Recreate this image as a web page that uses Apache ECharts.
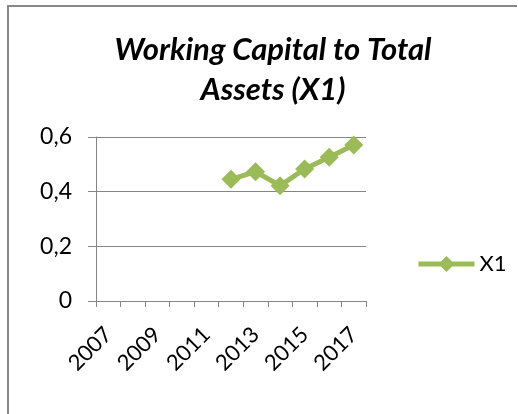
<!DOCTYPE html>
<html>
<head>
<meta charset="utf-8">
<script src="https://cdn.jsdelivr.net/npm/echarts@6/dist/echarts.min.js"></script>
<style>
  html, body { margin: 0; padding: 0; background: #fff; }
  #chart { width: 518px; height: 414px; }
</style>
</head>
<body>
<div id="chart"></div>
<script>
// data
const years = ["2007", "2008", "2009", "2010", "2011", "2012", "2013", "2014", "2015", "2016", "2017"];
const x1 = [null, null, null, null, null, 0.445, 0.473, 0.422, 0.483, 0.526, 0.571];
const titleLines = ["Working Capital to Total", "Assets (X1)"];

const green = "#9BBB59";
const gray = "#868686";
const font = "Lato, 'Open Sans', sans-serif";

const chart = echarts.init(document.getElementById("chart"));

chart.setOption({
  animation: false,
  title: {
    text: titleLines.join("\n"),
    left: 268,
    top: 25,
    textAlign: "center",
    textStyle: {
      fontFamily: font,
      fontSize: 31,
      fontWeight: "bold",
      fontStyle: "italic",
      color: "#000",
      lineHeight: 40
    }
  },
  graphic: [
    {
      type: "polyline",
      shape: { points: [[8, 414], [8, 6], [517, 6]] },
      style: { stroke: "#888", lineWidth: 2, fill: null }
    }
  ],
  legend: {
    data: [{ name: "X1" }],
    left: 411,
    top: 248,
    itemWidth: 56,
    itemHeight: 20,
    itemGap: 4,
    lineStyle: { width: 5 },
    textStyle: { fontFamily: font, fontSize: 22, color: "#000" }
  },
  grid: {
    left: 96,
    right: 152,
    top: 137,
    bottom: 113,
    containLabel: false
  },
  xAxis: {
    type: "category",
    data: years,
    boundaryGap: true,
    axisLine: { lineStyle: { color: gray, width: 1 } },
    axisTick: { show: true, interval: 0, length: 6, lineStyle: { color: gray } },
    axisLabel: {
      interval: 1,
      rotate: 45,
      margin: 30,
      fontFamily: font,
      fontSize: 22,
      color: "#000"
    }
  },
  yAxis: {
    type: "value",
    min: 0,
    max: 0.6,
    interval: 0.2,
    axisLine: { show: true, lineStyle: { color: gray, width: 1 } },
    axisTick: { show: true, length: 8, lineStyle: { color: gray } },
    splitLine: { lineStyle: { color: gray, width: 1 } },
    axisLabel: {
      margin: 24,
      fontFamily: font,
      fontSize: 23,
      color: "#000",
      formatter: v => String(Math.round(v * 10) / 10).replace(".", ",")
    }
  },
  series: [
    {
      name: "X1",
      type: "line",
      data: x1,
      symbol: "diamond",
      symbolSize: 19,
      showAllSymbol: true,
      connectNulls: false,
      lineStyle: { color: green, width: 5 },
      itemStyle: { color: green }
    }
  ]
});
</script>
</body>
</html>
